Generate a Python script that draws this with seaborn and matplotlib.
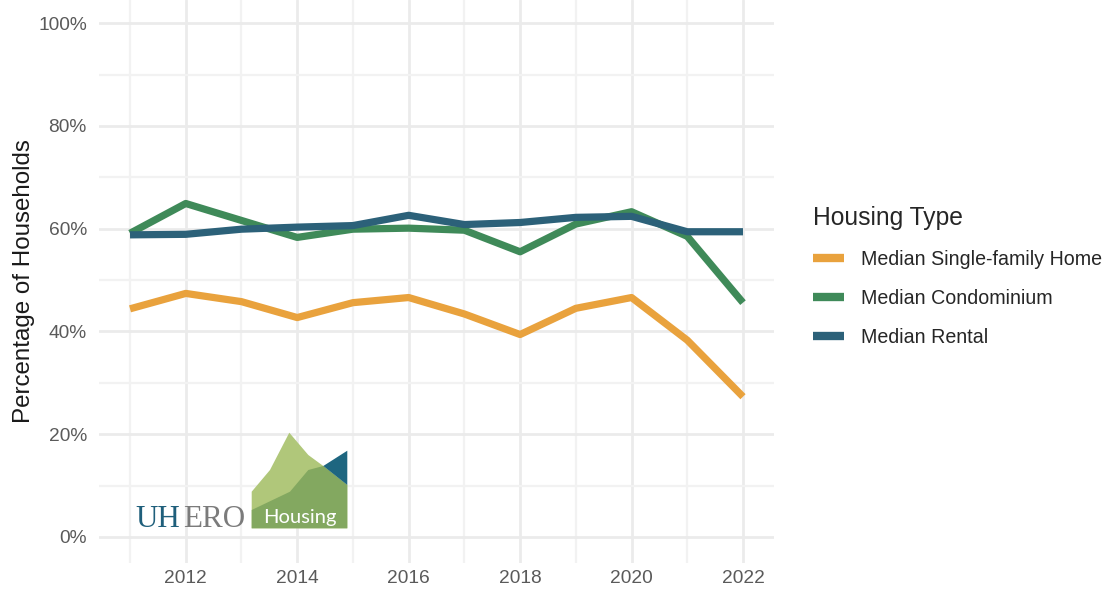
import matplotlib
matplotlib.use("Agg")
import matplotlib.pyplot as plt
from matplotlib.patches import Polygon
from matplotlib.ticker import MultipleLocator, FuncFormatter
import seaborn as sns
import pandas as pd

years = [2011, 2012, 2013, 2014, 2015, 2016, 2017, 2018, 2019, 2020, 2021, 2022]
single_family = [44.4, 47.4, 45.8, 42.7, 45.6, 46.6, 43.4, 39.4, 44.5, 46.6, 38.3, 27.3]
condo = [59.1, 64.9, 61.6, 58.3, 59.9, 60.1, 59.7, 55.5, 60.9, 63.3, 58.5, 45.6]
rental = [58.8, 58.9, 59.9, 60.3, 60.6, 62.6, 60.8, 61.2, 62.2, 62.4, 59.4, 59.4]

series_names = ["Median Single-family Home", "Median Condominium", "Median Rental"]
colors = {"Median Single-family Home": "#E9A23D",
          "Median Condominium": "#3F8A59",
          "Median Rental": "#2C6179"}

df = pd.DataFrame({
    "Year": years * 3,
    "Pct": single_family + condo + rental,
    "Housing Type": [series_names[0]] * 12 + [series_names[1]] * 12 + [series_names[2]] * 12,
})

sns.set_style("white")
plt.rcParams["font.family"] = ["Liberation Sans", "DejaVu Sans"]

fig = plt.figure(figsize=(11.09, 5.9), dpi=100)
ax = fig.add_axes([0.0896, 0.0463, 0.6080, 0.9537])

sns.lineplot(data=df, x="Year", y="Pct", hue="Housing Type", hue_order=series_names,
             palette=colors, linewidth=5.2, ax=ax, solid_capstyle="butt")

ax.set_xlim(2010.45, 2022.55)
ax.set_ylim(-5, 104.5)
ax.xaxis.set_major_locator(MultipleLocator(2))
ax.xaxis.set_minor_locator(MultipleLocator(1))
ax.yaxis.set_major_locator(MultipleLocator(20))
ax.yaxis.set_minor_locator(MultipleLocator(10))
ax.yaxis.set_major_formatter(FuncFormatter(lambda v, p: f"{v:.0f}%"))
ax.grid(which="major", color="#EBEBEB", linewidth=2.0)
ax.grid(which="minor", color="#F2F2F2", linewidth=1.6)
ax.set_axisbelow(True)
for s in ax.spines.values():
    s.set_visible(False)
ax.tick_params(which="both", length=0, labelsize=13.8, labelcolor="#5A5A5A")
ax.tick_params(axis="x", pad=5)
ax.tick_params(axis="y", pad=9)
ax.set_xlabel("")
ax.set_ylabel("Percentage of Households", fontsize=17.4, color="#1A1A1A", labelpad=2)

leg = ax.legend(title="Housing Type", loc="upper left", bbox_to_anchor=(0.7225, 0.6715),
                bbox_transform=fig.transFigure, frameon=False, fontsize=14.1,
                title_fontsize=17.7, handlelength=1.6, handletextpad=0.85,
                labelspacing=1.03, borderpad=0.6, borderaxespad=0)
leg._legend_box.align = "left"
for line in leg.get_lines():
    line.set_linewidth(6)

# UHERO Housing logo overlay (pixel coordinates)
lg = fig.add_axes([0, 0, 1, 1], zorder=5)
lg.set_xlim(0, 1109)
lg.set_ylim(590, 0)
lg.axis("off")
lg.patch.set_alpha(0)
light = [(251.7, 528.3), (251.7, 491.7), (270, 470), (289.3, 432.7), (308.3, 455),
         (323.3, 466), (347.3, 485), (347.3, 528.3)]
dark = [(251.7, 528.3), (251.7, 510), (290, 491.7), (308.3, 470), (323.3, 466),
        (347.3, 485), (347.3, 528.3)]
blue = [(323.3, 466), (347.3, 450.7), (347.3, 485)]
lg.add_patch(Polygon(light, closed=True, facecolor="#B0C77A", edgecolor="none"))
lg.add_patch(Polygon(dark, closed=True, facecolor="#83A860", edgecolor="none"))
lg.add_patch(Polygon(blue, closed=True, facecolor="#1E6680", edgecolor="none"))
lg.text(135, 526.7, "UH", family="Liberation Serif", fontsize=22.3, color="#1F5F7B", va="baseline")
lg.text(183, 526.7, "ERO", family="Liberation Serif", fontsize=22.3, color="#7B7B7B", va="baseline")
lg.text(300, 522.5, "Housing", family="Lato", fontsize=14.5, color="white", va="baseline", ha="center")

fig.savefig("out.png", dpi=100)
